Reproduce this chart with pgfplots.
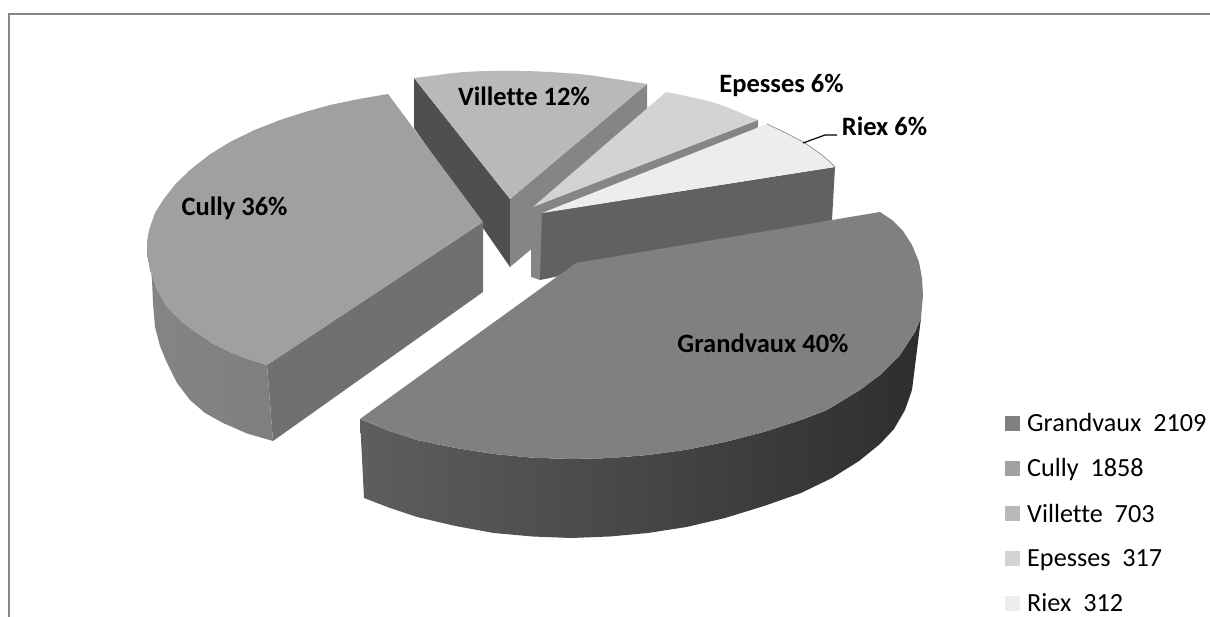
\documentclass[border=0pt]{standalone}
\usepackage{fontspec}
\setmainfont{Carlito}[Ligatures=NoCommon]
\usepackage{pgfplots}
\pgfplotsset{compat=1.18}
\definecolor{gv}{HTML}{808080}
\definecolor{cu}{HTML}{A0A0A0}
\definecolor{vi}{HTML}{B9B9B9}
\definecolor{ep}{HTML}{D3D3D3}
\definecolor{ri}{HTML}{EDEDED}
\tikzset{lab/.style={font=\fontsize{26.5}{30}\selectfont\bfseries,anchor=base,inner sep=0pt}}
\begin{document}
\begin{tikzpicture}
\useasboundingbox (0,0) rectangle (1210pt,617pt);
\begin{axis}[
at={(0,0)},anchor=south west,
width=1210pt,height=617pt,
scale only axis,
xmin=0,xmax=1210,ymin=0,ymax=617,
y dir=reverse,
hide axis,
clip=true,
legend style={draw=none,fill=none,at={(axis cs:1005,413)},anchor=north west,
  font=\fontsize{26.2}{30}\selectfont,row sep=25.7pt,inner sep=0pt,
  /tikz/every odd column/.append style={column sep=7pt},
  nodes={inner sep=0pt,anchor=west},legend cell align=left},
legend image code/.code={\fill[#1] (0pt,-7.5pt) rectangle (15pt,7.5pt);},
every axis plot/.append style={draw=none,forget plot},
]
% frame
\addplot[draw=black!47,line width=2pt] coordinates {(9,617) (9,14) (1210,14)};

% Villette
\addplot[fill=black!69] coordinates {(414,78) (510,199) (510,267) (414,128)} -- cycle;
\addplot[fill=black!48] coordinates {(510,199) (647,84) (647,152) (510,267)} -- cycle;
\addplot[fill=vi] coordinates {(414,78) (426,76.5) (438,75) (451,73.3) (464,72) (477,71.3) (490,71) (505,70.8) (520,71) (535,71.3) (550,72) (565,73) (579,74) (597,76.2) (615,79) (631,81.5) (647,84) (510,199)} -- cycle;

% Epesses
\addplot[fill=black!48] coordinates {(531,207) (540,210) (540,280) (531,277)} -- cycle;
\addplot[fill=black!48] coordinates {(533,207) (758,120) (758,127) (533,277)} -- cycle;
\addplot[fill=ep] coordinates {(533,207) (666,92) (678,94.3) (690,97) (701,99.3) (712,102) (724,106) (736,111) (747,115.5) (758,120)} -- cycle;

% Riex
\addplot[fill=black!62] coordinates {(542,213) (835,167) (832,220) (540,280)} -- cycle;
\addplot[fill=ri] coordinates {(542,213) (767,124) (776.5,128.5) (786,133) (795.5,138) (805,143) (813.5,149) (822,155) (829,161) (835,167)} -- cycle;
\addplot[draw=black!40,line width=0.8pt] coordinates {(767,124) (776.5,128.5) (786,133) (795.5,138) (805,143) (813.5,149) (822,155) (829,161) (835,167)};

% Cully
\addplot[fill=black!56] coordinates {(483,222) (483,292) (273,441) (267,365)} -- cycle;
\addplot[left color=black!48,middle color=black!37,right color=black!50] coordinates {(147,243) (147.5,256) (150,270) (157,289) (167,307) (181,321) (197,333) (213,343.5) (230,352) (248,359) (267,365) (273,441) (247,433.5) (223,423) (205,413) (190,400) (177,383) (167,363) (160,346) (155,327) (153,303) (152,280) (150,262)} -- cycle;
\addplot[fill=cu] coordinates {(388,94) (359,99) (330,105) (305,112) (280,120) (254.5,130) (230,142) (209,155) (190,170) (175.5,184) (163,200) (155,213) (150,227) (148,235) (147,243) (147.5,256) (150,270) (157,289) (167,307) (181,321) (197,333) (213,343.5) (230,352) (248,359) (267,365) (483,222)} -- cycle;

% Grandvaux
\addplot[left color=black!63,right color=black!82] coordinates {(360,419) (388,430.5) (417,440) (455.5,448) (494,454) (532.5,457.7) (571,459) (609.5,458.1) (648,455) (686.5,449.7) (725,442) (764,431.9) (801,420) (827,410) (860,390) (880,375) (900,355) (915,332) (921,318) (917,350) (912,390) (905,410) (894,429) (880,444) (859,461) (832,478) (801,493) (764,506) (725,518) (686.5,527) (648,533) (609.5,536.5) (571,538) (532.5,536.5) (494,533) (455.5,526) (417,517) (390,508) (364,498)} -- cycle;
\addplot[fill=gv] coordinates {(576,263) (880,212) (892,220) (903,231) (912,245) (919,262) (922,278) (923,295) (921,318) (915,332) (900,355) (880,375) (860,390) (827,410) (801,420) (764,431.9) (725,442) (686.5,449.7) (648,455) (609.5,458.1) (571,459) (532.5,457.7) (494,454) (455.5,448) (417,440) (388,430.5) (360,419)} -- cycle;

% leader
\addplot[draw=black,line width=1.2pt] coordinates {(803,143) (825,135) (837,135)};

% labels
\node[lab] at (axis cs:234.5,216) {Cully 36\%};
\node[lab] at (axis cs:763,353) {Grandvaux 40\%};
\node[lab] at (axis cs:524,106) {Villette 12\%};
\node[lab] at (axis cs:781.5,93) {Epesses 6\%};
\node[lab] at (axis cs:884.5,136) {Riex 6\%};

% legend
\addlegendimage{fill=gv}
\addlegendentry{Grandvaux\ \ 2109}
\addlegendimage{fill=cu}
\addlegendentry{Cully\ \ 1858}
\addlegendimage{fill=vi}
\addlegendentry{Villette\ \ 703}
\addlegendimage{fill=ep}
\addlegendentry{Epesses\ \ 317}
\addlegendimage{fill=ri}
\addlegendentry{Riex\ \ 312}
\end{axis}
\end{tikzpicture}
\end{document}
